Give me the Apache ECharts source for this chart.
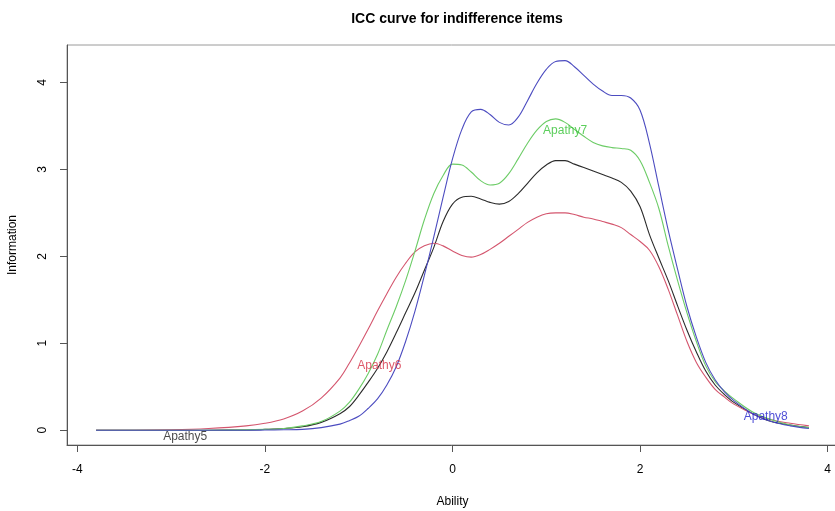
<!DOCTYPE html>
<html>
<head>
<meta charset="utf-8">
<script src="https://cdn.jsdelivr.net/npm/echarts@6/dist/echarts.min.js"></script>
<style>html,body{margin:0;padding:0;background:#fff}#c{width:835px;height:511px}</style>
</head>
<body>
<div id="c"></div>
<script>
// Ability grid
var ability = [-3.8,-3.4,-3.0,-2.6,-2.2,-2.0,-1.8,-1.6,-1.4,-1.2,-1.1,-1.0,-0.9,-0.8,-0.7,-0.6,-0.5,-0.4,-0.3,-0.2,-0.1,0.0,0.1,0.2,0.3,0.4,0.5,0.6,0.7,0.8,0.9,1.0,1.1,1.2,1.3,1.4,1.5,1.6,1.7,1.8,1.9,2.0,2.1,2.2,2.3,2.4,2.5,2.6,2.7,2.8,2.9,3.0,3.2,3.4,3.6,3.8];
var apathy5 = [0,0,0,0,0.003,0.01,0.02,0.04,0.09,0.19,0.27,0.40,0.55,0.71,0.90,1.12,1.35,1.58,1.84,2.10,2.40,2.60,2.68,2.69,2.66,2.62,2.60,2.63,2.72,2.84,2.96,3.05,3.10,3.10,3.06,3.02,2.98,2.94,2.90,2.85,2.75,2.57,2.25,1.98,1.72,1.43,1.15,0.90,0.68,0.52,0.41,0.32,0.19,0.10,0.06,0.03];
var apathy6 = [0,0,0.005,0.02,0.05,0.08,0.13,0.22,0.37,0.60,0.77,0.96,1.16,1.37,1.57,1.76,1.92,2.05,2.12,2.15,2.12,2.06,2.01,1.99,2.02,2.08,2.15,2.23,2.31,2.39,2.45,2.49,2.50,2.50,2.48,2.45,2.43,2.40,2.37,2.33,2.25,2.17,2.07,1.88,1.62,1.32,1.02,0.78,0.61,0.47,0.38,0.30,0.19,0.12,0.08,0.05];
var apathy7 = [0,0,0,0,0.004,0.01,0.02,0.05,0.10,0.22,0.32,0.47,0.65,0.87,1.15,1.42,1.72,2.06,2.42,2.72,2.93,3.06,3.05,2.97,2.87,2.82,2.84,2.95,3.12,3.30,3.45,3.55,3.58,3.54,3.46,3.38,3.31,3.27,3.25,3.24,3.22,3.10,2.85,2.55,2.12,1.72,1.35,1.02,0.74,0.56,0.45,0.36,0.21,0.12,0.06,0.03];
var apathy8 = [0,0,0,0,0,0.002,0.005,0.01,0.03,0.07,0.11,0.16,0.25,0.36,0.52,0.73,1.02,1.37,1.78,2.22,2.68,3.12,3.46,3.66,3.69,3.63,3.54,3.51,3.60,3.79,3.99,4.15,4.24,4.25,4.18,4.08,3.98,3.90,3.85,3.85,3.82,3.68,3.30,2.80,2.30,1.85,1.42,1.07,0.78,0.58,0.44,0.34,0.19,0.10,0.05,0.02];
var itemNames = ['Apathy5','Apathy6','Apathy7','Apathy8'];
var labelX = [-2.85,-0.78,1.20,3.34];
var labelY = [-0.08,0.74,3.45,0.16];
var xTicks = [-4,-2,0,2,4];
var yTicks = [0,1,2,3,4];

var lineColors = ['#2b2b2b','#d4566e','#6ccc66','#4c4cc0'];
var textColors = ['#1a1a1a','#d62f45','#33c233','#2222cc'];
var values = [apathy5, apathy6, apathy7, apathy8];

var series = values.map(function (vals, i) {
  return {
    type: 'line', name: itemNames[i], showSymbol: false, smooth: 0.35,
    data: ability.map(function (a, k) { return [a, vals[k]]; }),
    lineStyle: { color: lineColors[i], width: 1.1 },
    itemStyle: { color: lineColors[i] },
    silent: true, z: 2 + i
  };
});
series.push({
  type: 'scatter', symbolSize: 0, silent: true, z: 10,
  data: itemNames.map(function (n, i) {
    return { name: n, value: [labelX[i], labelY[i]], label: { color: textColors[i] } };
  }),
  label: { show: true, position: 'inside', formatter: function (p) { return p.name; },
           fontFamily: 'Liberation Sans, Arial, sans-serif', fontSize: 12 }
});

var chart = echarts.init(document.getElementById('c'), null, { renderer: 'canvas' });
chart.setOption({
  animation: false,
  backgroundColor: '#ffffff',
  title: {
    text: 'ICC curve for indifference items', left: 452, top: 7, textAlign: 'center',
    textStyle: { fontFamily: 'Liberation Sans, Arial, sans-serif', fontSize: 14, fontWeight: 'bold', color: '#000' }
  },
  grid: { left: 67, top: 45, width: 771, height: 400, containLabel: false, outerBoundsMode: 'none',
          show: true, borderColor: '#9a9a9a', borderWidth: 1, backgroundColor: 'transparent' },
  xAxis: {
    type: 'value', min: -4.11, max: 4.11,
    name: 'Ability', nameLocation: 'middle', nameGap: 51,
    nameTextStyle: { fontFamily: 'Liberation Sans, Arial, sans-serif', fontSize: 12, color: '#000' },
    axisLine: { show: true, onZero: false, lineStyle: { color: '#555', width: 1 } },
    axisTick: { show: true, length: 7, customValues: xTicks, lineStyle: { color: '#555' } },
    axisLabel: { customValues: xTicks, margin: 19, fontFamily: 'Liberation Sans, Arial, sans-serif', fontSize: 12, color: '#000' },
    splitLine: { show: false }
  },
  yAxis: {
    type: 'value', min: -0.17, max: 4.43,
    name: 'Information', nameLocation: 'middle', nameGap: 48, nameRotate: 90,
    nameTextStyle: { fontFamily: 'Liberation Sans, Arial, sans-serif', fontSize: 12, color: '#000' },
    axisLine: { show: true, onZero: false, lineStyle: { color: '#555', width: 1 } },
    axisTick: { show: true, length: 7, customValues: yTicks, lineStyle: { color: '#555' } },
    axisLabel: { customValues: yTicks, rotate: 90, margin: 18, fontFamily: 'Liberation Sans, Arial, sans-serif', fontSize: 12, color: '#000' },
    splitLine: { show: false }
  },
  series: series
});
</script>
</body>
</html>
